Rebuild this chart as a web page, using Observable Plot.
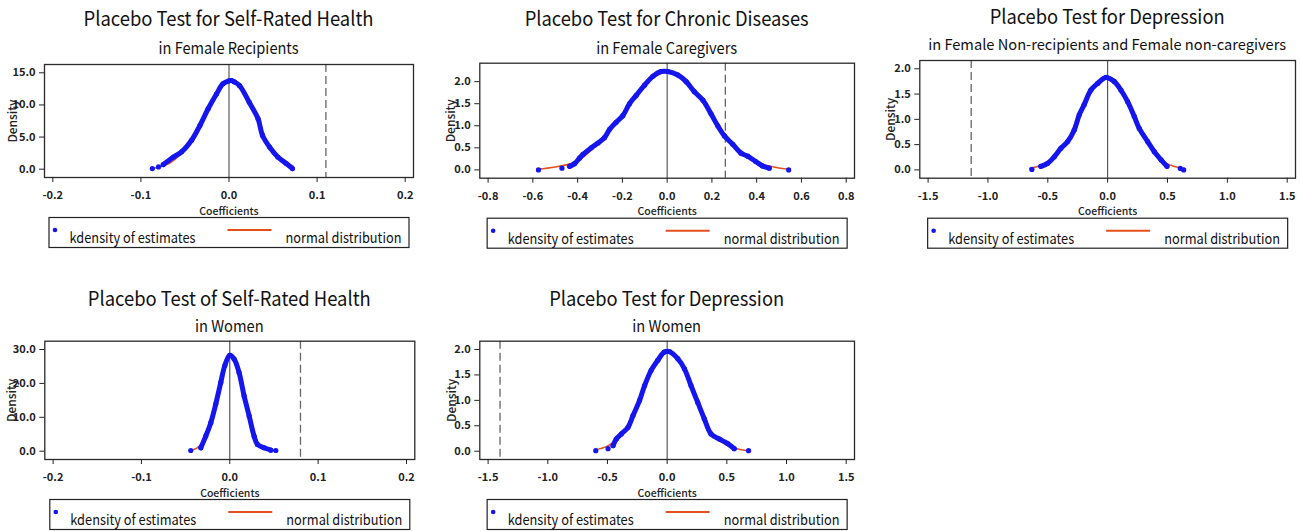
<!DOCTYPE html>
<html>
<head>
<meta charset="utf-8">
<script src="https://cdn.jsdelivr.net/npm/d3@7"></script>
<script src="https://cdn.jsdelivr.net/npm/@observablehq/plot@0.6"></script>
<style>
  html, body { margin: 0; padding: 0; background: #fff; }
  #root { position: relative; width: 1301px; height: 531px; overflow: hidden; background: #fff;
          font-family: "Noto Sans CJK SC", "Noto Sans", sans-serif; }
  .panel { position: absolute; }
  #overlay { position: absolute; left: 0; top: 0; pointer-events: none; }
</style>
</head>
<body>
<div id="root"></div>
<script>
// ---------------- data ----------------
const titles = [
  "Placebo Test for Self-Rated Health",
  "Placebo Test for Chronic Diseases",
  "Placebo Test for Depression",
  "Placebo Test of Self-Rated Health",
  "Placebo Test for Depression"
];
const subtitles = [
  "in Female Recipients",
  "in Female Caregivers",
  "in Female Non-recipients and Female non-caregivers",
  "in Women",
  "in Women"
];
const legendLabels = ["kdensity of estimates", "normal distribution"];
const xLabel = "Coefficients";
const yLabel = "Density";

// Panel 1: Self-Rated Health, female recipients
const p1XTicks = [-0.2, -0.1, 0, 0.1, 0.2];
const p1YTicks = [0, 5, 10, 15];
const p1Actual = 0.11;
const p1KdX = [-0.0746, -0.063, -0.0538, -0.0425, -0.033, -0.0237, -0.0142, -0.0068, 0.0, 0.0027, 0.006, 0.012, 0.023, 0.033, 0.038, 0.046, 0.0554, 0.065, 0.072];
const p1KdY = [0.72, 1.9, 2.7, 4.5, 6.8, 9.4, 11.7, 13.3, 13.75, 13.8, 13.6, 13.0, 10.4, 7.85, 5.26, 3.45, 1.9, 0.88, 0.1];
const p1TailX = [-0.087, -0.080];
const p1TailY = [0.1, 0.36];
const p1NormX = [-0.087, -0.08, -0.07, -0.06, -0.05, -0.04, -0.03, -0.02, -0.01, 0, 0.01, 0.02, 0.03, 0.04, 0.05, 0.06, 0.07, 0.073];
const p1NormY = [0.14, 0.3, 0.75, 1.7, 3.0, 5.1, 7.6, 10.3, 12.6, 13.75, 13.2, 11.1, 8.6, 5.2, 3.0, 1.55, 0.65, 0.45];

// Panel 2: Chronic Diseases, female caregivers
const p2XTicks = [-0.8, -0.6, -0.4, -0.2, 0, 0.2, 0.4, 0.6, 0.8];
const p2YTicks = [0, 0.5, 1, 1.5, 2];
const p2Actual = 0.26;
const p2KdX = [-0.436, -0.414, -0.391, -0.376, -0.339, -0.309, -0.280, -0.257, -0.228, -0.198, -0.168, -0.138, -0.101, -0.064, -0.027, 0.003, 0.048, 0.085, 0.122, 0.160, 0.196, 0.226, 0.256, 0.293, 0.330, 0.360, 0.396, 0.426, 0.456];
const p2KdY = [0.08, 0.14, 0.27, 0.35, 0.50, 0.61, 0.73, 0.92, 1.08, 1.23, 1.50, 1.69, 1.92, 2.12, 2.23, 2.23, 2.15, 2.00, 1.77, 1.58, 1.27, 1.00, 0.77, 0.58, 0.38, 0.31, 0.19, 0.09, 0.04];
const p2TailX = [-0.575, -0.470, 0.543];
const p2TailY = [0.0, 0.04, 0.0];
const p2NormX = [-0.58, -0.5, -0.4, -0.3, -0.2, -0.1, 0, 0.1, 0.2, 0.3, 0.4, 0.5, 0.55];
const p2NormY = [0.017, 0.065, 0.2, 0.64, 1.22, 1.93, 2.22, 1.90, 1.23, 0.54, 0.18, 0.045, 0.02];

// Panel 3: Depression, female non-recipients & non-caregivers
const p3XTicks = [-1.5, -1, -0.5, 0, 0.5, 1, 1.5];
const p3YTicks = [0, 0.5, 1, 1.5, 2];
const p3Actual = -1.14;
const p3KdX = [-0.558, -0.502, -0.446, -0.39, -0.334, -0.279, -0.237, -0.196, -0.14, -0.084, -0.014, 0.055, 0.111, 0.167, 0.222, 0.264, 0.334, 0.39, 0.446, 0.496];
const p3KdY = [0.07, 0.13, 0.26, 0.43, 0.56, 0.79, 1.09, 1.29, 1.58, 1.71, 1.83, 1.75, 1.58, 1.35, 1.06, 0.82, 0.56, 0.36, 0.20, 0.07];
const p3TailX = [-0.633, 0.607, 0.635];
const p3TailY = [0.01, 0.03, 0.0];
const p3NormX = [-0.65, -0.5, -0.4, -0.3, -0.2, -0.1, 0, 0.1, 0.2, 0.3, 0.4, 0.5, 0.65];
const p3NormY = [0.03, 0.15, 0.39, 0.71, 1.26, 1.66, 1.81, 1.60, 1.17, 0.68, 0.32, 0.12, 0.02];

// Panel 4: Self-Rated Health, women
const p4XTicks = [-0.2, -0.1, 0, 0.1, 0.2];
const p4YTicks = [0, 10, 20, 30];
const p4Actual = 0.08;
const p4KdX = [-0.0328, -0.0272, -0.0215, -0.0159, -0.0102, -0.0057, 0.0, 0.0049, 0.0105, 0.0162, 0.0219, 0.0275, 0.0313, 0.0389, 0.0464];
const p4KdY = [1.0, 4.45, 8.4, 13.9, 20.3, 25.2, 28.3, 27.2, 23.2, 16.3, 10.4, 4.45, 2.0, 1.0, 0.3];
const p4TailX = [-0.0442, 0.0521];
const p4TailY = [0.2, 0.2];
const p4NormX = [-0.045, -0.04, -0.035, -0.03, -0.02, -0.01, 0, 0.01, 0.02, 0.03, 0.04, 0.045, 0.052];
const p4NormY = [0.2, 0.55, 1.35, 2.8, 10.0, 20.8, 28.2, 23.4, 12.2, 2.9, 0.9, 0.45, 0.1];

// Panel 5: Depression, women
const p5XTicks = [-1.5, -1, -0.5, 0, 0.5, 1, 1.5];
const p5YTicks = [0, 0.5, 1, 1.5, 2];
const p5Actual = -1.40;
const p5KdX = [-0.453, -0.426, -0.384, -0.328, -0.286, -0.231, -0.189, -0.134, -0.078, -0.023, 0.019, 0.089, 0.145, 0.20, 0.256, 0.311, 0.367, 0.437, 0.507, 0.562];
const p5KdY = [0.11, 0.24, 0.34, 0.47, 0.70, 1.0, 1.29, 1.59, 1.79, 1.95, 1.96, 1.82, 1.62, 1.29, 0.96, 0.64, 0.34, 0.24, 0.15, 0.05];
const p5TailX = [-0.598, -0.495, 0.682];
const p5TailY = [0.01, 0.05, 0.01];
const p5NormX = [-0.6, -0.5, -0.4, -0.3, -0.2, -0.1, 0, 0.1, 0.2, 0.3, 0.4, 0.5, 0.6, 0.68];
const p5NormY = [0.03, 0.1, 0.29, 0.64, 1.21, 1.72, 1.95, 1.77, 1.27, 0.69, 0.29, 0.12, 0.04, 0.01];

// ---------------- layout (pixels) ----------------
const FONT = '"Noto Sans CJK SC", "Noto Sans", sans-serif';
const BLUE = "#1515ee";
const RED = "#e4501c";

const panels = [
  { idx: 0, left: 0,   top: 55,  w: 430, h: 160, ml: 44,   mr: 17,   mt: 9,    mb: 38,   yOff: 36,
    xT: p1XTicks, yT: p1YTicks, act: p1Actual, kdX: p1KdX, kdY: p1KdY, tX: p1TailX, tY: p1TailY, nX: p1NormX, nY: p1NormY,
    titleY: 26, subY: 54.3, titleW: 290, subW: 140, subFs: 16 },
  { idx: 1, left: 430, top: 55,  w: 430, h: 160, ml: 49.3, mr: 6,    mt: 7.7,  mb: 37.3, yOff: 33,
    xT: p2XTicks, yT: p2YTicks, act: p2Actual, kdX: p2KdX, kdY: p2KdY, tX: p2TailX, tY: p2TailY, nX: p2NormX, nY: p2NormY,
    titleY: 26, subY: 54.3, titleW: 284, subW: 141, subFs: 16 },
  { idx: 2, left: 860, top: 50,  w: 441, h: 165, ml: 59.3, mr: 6,    mt: 10,   mb: 37.3, yOff: 33,
    xT: p3XTicks, yT: p3YTicks, act: p3Actual, kdX: p3KdX, kdY: p3KdY, tX: p3TailX, tY: p3TailY, nX: p3NormX, nY: p3NormY,
    titleY: 24, subY: 50, titleW: 235, subW: 358, subFs: 14.8 },
  { idx: 3, left: 0,   top: 330, w: 430, h: 167, ml: 44.3, mr: 15.7, mt: 10.7, mb: 38,   yOff: 37,
    xT: p4XTicks, yT: p4YTicks, act: p4Actual, kdX: p4KdX, kdY: p4KdY, tX: p4TailX, tY: p4TailY, nX: p4NormX, nY: p4NormY,
    titleY: 305.7, subY: 331.7, titleW: 283, subW: 68.7, subFs: 16 },
  { idx: 4, left: 430, top: 330, w: 430, h: 167, ml: 49.3, mr: 6,    mt: 10.7, mb: 38,   yOff: 32,
    xT: p5XTicks, yT: p5YTicks, act: p5Actual, kdX: p5KdX, kdY: p5KdY, tX: p5TailX, tY: p5TailY, nX: p5NormX, nY: p5NormY,
    titleY: 305.7, subY: 331.7, titleW: 235, subW: 68.7, subFs: 16 }
];

const root = document.getElementById("root");
const fmt1 = d => (+d).toFixed(1);

function makePlot(p) {
  const kd = p.kdX.map((x, i) => ({ x, y: p.kdY[i] }));
  const tail = p.tX.map((x, i) => ({ x, y: p.tY[i] }));
  const norm = p.nX.map((x, i) => ({ x, y: p.nY[i] }));
  const yMax = Math.max(p.yT[p.yT.length - 1], d3.max(p.kdY));
  return Plot.plot({
    width: p.w, height: p.h,
    marginLeft: p.ml, marginRight: p.mr, marginTop: p.mt, marginBottom: p.mb,
    style: { fontFamily: FONT, fontSize: "11px", color: "#222", background: "transparent", overflow: "visible" },
    x: { domain: [p.xT[0], p.xT[p.xT.length - 1]], inset: 8.3 },
    y: { domain: [0, yMax], inset: 8.3 },
    marks: [
      Plot.ruleX([0], { stroke: "#3a3a3a", strokeWidth: 1 }),
      Plot.ruleX([p.act], { stroke: "#666", strokeWidth: 1.3, strokeDasharray: "8,4" }),
      Plot.line(norm, { x: "x", y: "y", stroke: RED, strokeWidth: 1.6, curve: "catmull-rom" }),
      Plot.line(kd, { x: "x", y: "y", stroke: BLUE, strokeWidth: 5, curve: "catmull-rom",
                      strokeLinecap: "round", strokeLinejoin: "round" }),
      Plot.dot(kd.concat(tail), { x: "x", y: "y", r: 2.6, fill: BLUE, stroke: "none" }),
      Plot.frame({ stroke: "#2a2a2a", strokeWidth: 1.3 }),
      Plot.axisX({ ticks: p.xT, tickFormat: fmt1, tickSize: 5, tickPadding: 9, fontWeight: 600, label: null }),
      Plot.axisX({ ticks: [], label: xLabel, labelAnchor: "center", labelOffset: 37, labelArrow: "none",
                   fontSize: 10.5, fontWeight: 500 }),
      Plot.axisY({ ticks: p.yT, tickFormat: fmt1, tickSize: 5, tickPadding: 4, fontWeight: 600, label: null }),
      Plot.axisY({ ticks: [], label: yLabel, labelAnchor: "center", labelOffset: p.yOff, labelArrow: "none",
                   fontSize: 12, fontWeight: 500 })
    ]
  });
}

panels.forEach(p => {
  const div = document.createElement("div");
  div.className = "panel";
  div.style.left = p.left + "px";
  div.style.top = p.top + "px";
  div.appendChild(makePlot(p));
  root.appendChild(div);
});

// ---------------- titles, subtitles, legends ----------------
const svg = d3.select(root).append("svg")
  .attr("id", "overlay").attr("width", 1301).attr("height", 531)
  .style("font-family", FONT);

const legendTextW = [126, 116];

panels.forEach(p => {
  const frameL = p.left + p.ml, frameR = p.left + p.w - p.mr;
  const cx = (frameL + frameR) / 2;
  const frameB = p.top + p.h - p.mb;
  svg.append("text").attr("x", cx - p.titleW / 2).attr("y", p.titleY)
    .attr("font-size", 20).attr("fill", "#111")
    .attr("textLength", p.titleW).attr("lengthAdjust", "spacingAndGlyphs")
    .text(titles[p.idx]);
  svg.append("text").attr("x", cx - p.subW / 2).attr("y", p.subY)
    .attr("font-size", p.subFs).attr("fill", "#111")
    .attr("textLength", p.subW).attr("lengthAdjust", "spacingAndGlyphs")
    .text(subtitles[p.idx]);

  const lw = 360, lh = 30;
  const lx = cx - lw / 2, ly = frameB + 40;
  const g = svg.append("g").attr("transform", `translate(${lx},${ly})`);
  g.append("rect").attr("x", 0.5).attr("y", 0.5).attr("width", lw).attr("height", lh)
    .attr("fill", "#fff").attr("stroke", "#222").attr("stroke-width", 1.2);
  g.append("circle").attr("cx", 6.5).attr("cy", 13).attr("r", 2.3).attr("fill", BLUE);
  g.append("text").attr("x", 21).attr("y", 26).attr("font-size", 14.5).attr("fill", "#111")
    .attr("textLength", legendTextW[0]).attr("lengthAdjust", "spacingAndGlyphs").text(legendLabels[0]);
  g.append("line").attr("x1", 179).attr("x2", 223).attr("y1", 13).attr("y2", 13)
    .attr("stroke", RED).attr("stroke-width", 2);
  g.append("text").attr("x", 237).attr("y", 26).attr("font-size", 14.5).attr("fill", "#111")
    .attr("textLength", legendTextW[1]).attr("lengthAdjust", "spacingAndGlyphs").text(legendLabels[1]);
});
</script>
</body>
</html>
